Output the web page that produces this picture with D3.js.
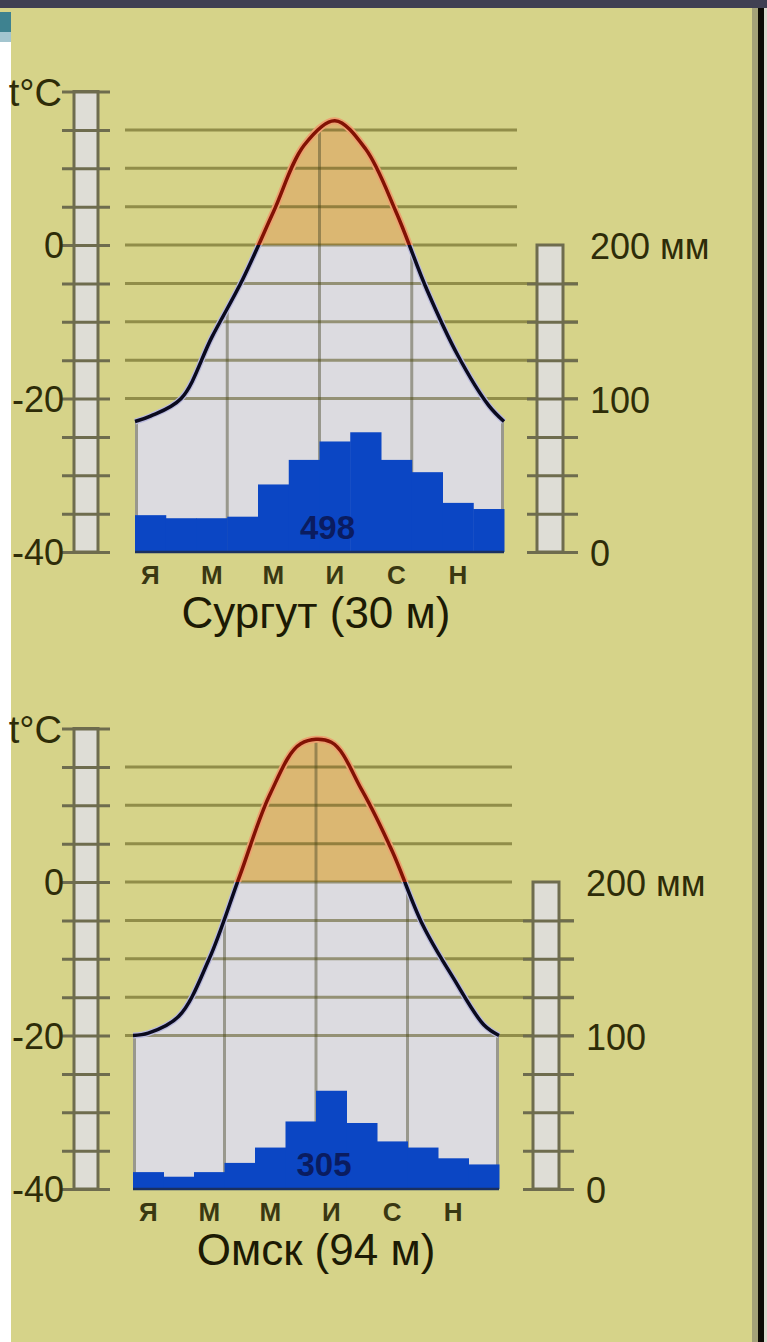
<!DOCTYPE html>
<html>
<head>
<meta charset="utf-8">
<script src="https://cdn.jsdelivr.net/npm/d3@7"></script>
<style>
  body { margin: 0; background: #fff; }
  svg { display: block; }
</style>
</head>
<body>
<div id="viz-container"></div>
<script>
let W = 767, H = 1342;

// ---- data ----
let months = ["Я", "Ф", "М", "А", "М", "И", "И", "А", "С", "О", "Н", "Д"];
let monthLabels = ["Я", "М", "М", "И", "С", "Н"]; // printed under every other month
let stations = ["Сургут (30 м)", "Омск (94 м)"];
let annualPrec = [498, 305];

let surgutTemp = [-22.3, -20, -12, -4.5, 4.3, 13, 16.2, 12.5, 4.2, -5.9, -14.4, -20.9];
let surgutTempEdges = [-23, -23];
let surgutPrec = [24, 22, 22, 23, 44, 60, 72, 78, 60, 52, 32, 28];

let omskTemp = [-19.7, -17.5, -10, 0.8, 11.5, 18, 18.2, 12, 4, -5.6, -12.5, -18.6];
let omskTempEdges = [-20, -20];
let omskPrec = [11, 8, 11, 17, 27, 44, 64, 43, 31, 27, 20, 16];

let tempTicks = [20, 15, 10, 5, 0, -5, -10, -15, -20, -25, -30, -35, -40];
let tempGrid = [15, 10, 5, 0, -5, -10, -15, -20];
let tempLabels = ["0", "-20", "-40"];
let tempLabelValues = [0, -20, -40];
let precTicks = [0, 25, 50, 75, 100, 125, 150, 175];
let precLabels = ["0", "100", "200 мм"];
let precLabelValues = [0, 100, 200];

let font = "'Liberation Sans', Arial, sans-serif";

let viz = d3.select("#viz-container")
    .append("svg")
    .attr("width", W)
    .attr("height", H);

let defs = viz.append("defs");

// page / photo background
viz.append("rect").attr("width", W).attr("height", H).attr("fill", "#d6d389");
viz.append("rect").attr("width", W).attr("height", 8).attr("fill", "#404052");
viz.append("rect").attr("x", 0).attr("y", 42).attr("width", 11).attr("height", H - 42).attr("fill", "#ffffff");
viz.append("rect").attr("x", 0).attr("y", 12).attr("width", 11).attr("height", 20).attr("fill", "#3e8290");
viz.append("rect").attr("x", 0).attr("y", 32).attr("width", 11).attr("height", 10).attr("fill", "#a3c5cf");
viz.append("rect").attr("x", 752).attr("y", 8).attr("width", 6).attr("height", H).attr("fill", "#a3a178");
viz.append("rect").attr("x", 758).attr("y", 8).attr("width", 6).attr("height", H).attr("fill", "#0c0a04");
viz.append("rect").attr("x", 764).attr("y", 8).attr("width", 3).attr("height", H).attr("fill", "#d9d9cc");

function drawChart(idx, c, temps, edges, prec) {
    let g = viz.append("g");
    let y = d3.scaleLinear().domain([-40, 0]).range([c.bottom, c.zero]);
    let yp = d3.scaleLinear().domain([0, 200]).range([c.bottom, c.zero]);
    let xb = d3.scaleBand().domain(d3.range(12)).range([c.x0, c.x1]);
    let bw = xb.bandwidth();

    let pts = [{x: c.x0, t: edges[0]}]
        .concat(temps.map((t, i) => ({x: xb(i) + bw / 2, t: t})))
        .concat([{x: c.x1, t: edges[1]}]);

    let curve = d3.curveCatmullRom.alpha(0.5);
    let line = d3.line().x(d => d.x).y(d => y(d.t)).curve(curve);
    let area = d3.area().x(d => d.x).y0(y(-40)).y1(d => y(d.t)).curve(curve);

    defs.append("clipPath").attr("id", "area" + idx)
        .append("path").attr("d", area(pts));
    defs.append("clipPath").attr("id", "above" + idx)
        .append("rect").attr("x", 0).attr("y", y(20) - 20).attr("width", W).attr("height", y(0) - y(20) + 20);
    defs.append("clipPath").attr("id", "below" + idx)
        .append("rect").attr("x", 0).attr("y", y(0)).attr("width", W).attr("height", y(-40) - y(0) + 10);

    // fills under the temperature curve
    let fill = g.append("g").attr("clip-path", "url(#area" + idx + ")");
    fill.append("rect").attr("x", c.x0 - 5).attr("y", y(20)).attr("width", c.x1 - c.x0 + 10)
        .attr("height", y(0) - y(20)).attr("fill", "#dbb772");
    fill.append("rect").attr("x", c.x0 - 5).attr("y", y(0)).attr("width", c.x1 - c.x0 + 10)
        .attr("height", y(-40) - y(0)).attr("fill", "#dcdbe0");

    // vertical quarter lines, only inside the area
    fill.selectAll(".vline").data([0, 3, 6, 9, 12]).enter()
        .append("line")
        .attr("x1", d => d === 12 ? c.x1 - 1.5 : (d === 0 ? c.x0 + 1.5 : xb(d)))
        .attr("x2", d => d === 12 ? c.x1 - 1.5 : (d === 0 ? c.x0 + 1.5 : xb(d)))
        .attr("y1", y(20)).attr("y2", y(-40))
        .attr("stroke", "rgba(70,70,40,0.45)")
        .attr("stroke-width", 3);

    // horizontal grid lines
    g.selectAll(".hline").data(tempGrid).enter()
        .append("line")
        .attr("x1", 125)
        .attr("x2", d => d >= 0 ? c.gridEnd : c.rbar + 41)
        .attr("y1", d => y(d)).attr("y2", d => y(d))
        .attr("stroke", "rgba(75,72,10,0.5)")
        .attr("stroke-width", 3);

    // precipitation bars
    g.selectAll(".bar").data(prec).enter()
        .append("rect")
        .attr("x", (d, i) => xb(i))
        .attr("width", bw + 0.5)
        .attr("y", d => yp(d))
        .attr("height", d => c.bottom - yp(d))
        .attr("fill", "#0b46c4");

    g.append("line")
        .attr("x1", c.x0).attr("x2", c.x1)
        .attr("y1", c.bottom).attr("y2", c.bottom)
        .attr("stroke", "#1a3060").attr("stroke-width", 2.5);

    g.append("text")
        .attr("x", xb(6) + 8).attr("y", yp(0) - 13)
        .attr("text-anchor", "middle")
        .attr("font-family", font).attr("font-size", 33).attr("font-weight", "bold")
        .attr("fill", "#0a1248").attr("opacity", 0.8)
        .text(annualPrec[idx]);

    // temperature curve: red above 0, dark below
    let above = g.append("g").attr("clip-path", "url(#above" + idx + ")");
    above.append("path").attr("d", line(pts)).attr("fill", "none")
        .attr("stroke", "#eca170").attr("stroke-width", 7);
    above.append("path").attr("d", line(pts)).attr("fill", "none")
        .attr("stroke", "#821204").attr("stroke-width", 3.5);
    let below = g.append("g").attr("clip-path", "url(#below" + idx + ")");
    below.append("path").attr("d", line(pts)).attr("fill", "none")
        .attr("stroke", "#b9b9dc").attr("stroke-width", 6);
    below.append("path").attr("d", line(pts)).attr("fill", "none")
        .attr("stroke", "#0a0a1e").attr("stroke-width", 3.5);

    // left thermometer scale
    g.append("rect")
        .attr("x", 74).attr("y", y(20)).attr("width", 24).attr("height", y(-40) - y(20))
        .attr("fill", "#deddd6").attr("stroke", "#6e6c4e").attr("stroke-width", 3);
    let leftAxis = g.append("g").attr("transform", "translate(110,0)")
        .call(d3.axisLeft(y).tickValues(tempTicks).tickSize(48).tickFormat(""));
    leftAxis.select(".domain").remove();
    leftAxis.selectAll(".tick line").attr("stroke", "#6e6c4e").attr("stroke-width", 3);

    g.selectAll(".tlab").data(tempLabelValues).enter()
        .append("text")
        .attr("x", 64).attr("y", d => y(d) + 13)
        .attr("text-anchor", "end")
        .attr("font-family", font).attr("font-size", 36)
        .attr("fill", "#2e2c08")
        .text((d, i) => tempLabels[i]);
    g.append("text")
        .attr("x", 62).attr("y", y(0) - 139)
        .attr("text-anchor", "end")
        .attr("font-family", font).attr("font-size", 38)
        .attr("fill", "#2e2c08")
        .text("t°C");

    // right precipitation scale
    g.append("rect")
        .attr("x", c.rbar).attr("y", yp(200)).attr("width", 26).attr("height", yp(0) - yp(200))
        .attr("fill", "#deddd6").attr("stroke", "#6e6c4e").attr("stroke-width", 3);
    let rightAxis = g.append("g").attr("transform", "translate(" + (c.rbar - 10) + ",0)")
        .call(d3.axisRight(yp).tickValues(precTicks).tickSize(51).tickFormat(""));
    rightAxis.select(".domain").remove();
    rightAxis.selectAll(".tick line").attr("stroke", "#6e6c4e").attr("stroke-width", 3);

    g.selectAll(".plab").data(precLabelValues).enter()
        .append("text")
        .attr("x", c.rlab).attr("y", d => yp(d) + 14)
        .attr("font-family", font).attr("font-size", 36)
        .attr("fill", "#2e2c08")
        .text((d, i) => precLabels[i]);

    // month letters + station title
    g.selectAll(".mlab").data(monthLabels).enter()
        .append("text")
        .attr("x", (d, i) => xb(i * 2) + bw / 2)
        .attr("y", c.bottom + 32)
        .attr("text-anchor", "middle")
        .attr("font-family", font).attr("font-size", 26).attr("font-weight", "bold")
        .attr("fill", "#3a3812")
        .text(d => d);
    g.append("text")
        .attr("x", 316).attr("y", c.bottom + 76)
        .attr("text-anchor", "middle")
        .attr("font-family", font).attr("font-size", 44)
        .attr("fill", "#1c1a04")
        .text(stations[idx]);
}

drawChart(0, {zero: 245, bottom: 552, x0: 135, x1: 504, gridEnd: 517, rbar: 537, rlab: 590},
    surgutTemp, surgutTempEdges, surgutPrec);
drawChart(1, {zero: 882, bottom: 1189, x0: 133, x1: 499, gridEnd: 512, rbar: 533, rlab: 586},
    omskTemp, omskTempEdges, omskPrec);
</script>
</body>
</html>
